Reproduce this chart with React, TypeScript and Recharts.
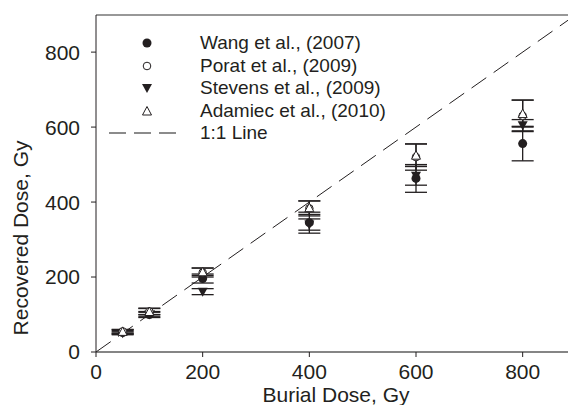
import {
  ComposedChart,
  Scatter,
  XAxis,
  YAxis,
  ErrorBar,
  ReferenceLine,
  Legend,
} from 'recharts';

// ── Data ────────────────────────────────────────────────
const burialDose = [50, 100, 200, 400, 600, 800];

const wangDose = [52, 100, 196, 345, 463, 556];
const wangErr = [5, 8, 12, 28, 37, 46];

const poratDose = [55, 108, 212, 383, 520, 630];
const poratErr = [5, 9, 12, 20, 35, 42];

const stevensDose = [50, 100, 161, 340, 470, 605];
const stevensErr = [4, 6, 8, 15, 25, 15];

const adamiecDose = [55, 108, 214, 385, 525, 636];
const adamiecErr = [5, 8, 10, 18, 30, 36];

const oneToOne = [0, 885];

const xTicks = [0, 200, 400, 600, 800];
const yTicks = [0, 200, 400, 600, 800];

const toRows = (ys: number[], errs: number[]) =>
  burialDose.map((x, i) => ({ x, y: ys[i], err: errs[i] }));

const lineRows = oneToOne.map((v) => ({ x: v, y: v }));

// ── Styles ───────────────────────────────────────────────
const INK = '#231f20';
const FONT = 'Arial, "Liberation Sans", Helvetica, sans-serif';

// ── Marker shapes ───────────────────────────────────────
const FilledCircle = (p: any) => (
  <circle cx={p.cx} cy={p.cy} r={4.5} fill={INK} />
);
const OpenCircle = (p: any) => (
  <circle cx={p.cx} cy={p.cy} r={3.8} fill="#fff" stroke={INK} strokeWidth={1} />
);
const DownTriangle = (p: any) => (
  <path
    d={`M${p.cx - 5},${p.cy - 4} L${p.cx + 5},${p.cy - 4} L${p.cx},${p.cy + 5} Z`}
    fill={INK}
  />
);
const UpTriangle = (p: any) => (
  <path
    d={`M${p.cx - 4.5},${p.cy + 4} L${p.cx + 4.5},${p.cy + 4} L${p.cx},${p.cy - 4.5} Z`}
    fill="#fff"
    stroke={INK}
    strokeWidth={1}
  />
);

const legendItems = [
  { name: 'Wang et al., (2007)', shape: FilledCircle },
  { name: 'Porat et al., (2009)', shape: OpenCircle },
  { name: 'Stevens et al., (2009)', shape: DownTriangle },
  { name: 'Adamiec et al., (2010)', shape: UpTriangle },
];

function LegendBox() {
  return (
    <div style={{ fontFamily: FONT, fontSize: 19, color: INK, lineHeight: '22.5px' }}>
      {legendItems.map((it) => (
        <div key={it.name} style={{ display: 'flex', alignItems: 'center', height: 22.5 }}>
          <svg width={100} height={22} style={{ display: 'block' }}>
            {it.shape({ cx: 47, cy: 11 })}
          </svg>
          <span>{it.name}</span>
        </div>
      ))}
      <div style={{ display: 'flex', alignItems: 'center', height: 22.5 }}>
        <svg width={100} height={22} style={{ display: 'block' }}>
          <line x1={9} y1={11} x2={76} y2={11} stroke="#666" strokeWidth={1.3} strokeDasharray="17 8" />
        </svg>
        <span>1:1 Line</span>
      </div>
    </div>
  );
}

// ── Component ────────────────────────────────────────────
export default function App() {
  return (
    <div style={{ position: 'absolute', left: 0, top: 0, background: '#fff' }}>
      <ComposedChart
        width={568}
        height={405}
        margin={{ top: 15, right: 0, bottom: 0, left: 0 }}
      >
        <XAxis
          type="number"
          dataKey="x"
          domain={[0, 885]}
          ticks={xTicks}
          allowDataOverflow
          height={53}
          tickSize={5}
          tickMargin={7}
          axisLine={{ stroke: '#858585', strokeWidth: 2 }}
          tickLine={{ stroke: INK }}
          tick={{ fill: INK, fontSize: 21, fontFamily: FONT }}
          label={{
            content: () => (
              <text
                x={336}
                y={402}
                textAnchor="middle"
                fill={INK}
                fontSize={21}
                fontFamily={FONT}
              >
                Burial Dose, Gy
              </text>
            ),
          }}
        />
        <YAxis
          type="number"
          dataKey="y"
          domain={[0, 899]}
          ticks={yTicks}
          allowDataOverflow
          width={96}
          tickSize={5}
          tickMargin={11}
          axisLine={{ stroke: INK, strokeWidth: 1 }}
          tickLine={{ stroke: INK }}
          tick={{ fill: INK, fontSize: 21, fontFamily: FONT }}
          label={{
            content: () => (
              <text
                x={0}
                y={0}
                transform="translate(28, 238) rotate(-90)"
                textAnchor="middle"
                fill={INK}
                fontSize={21}
                fontFamily={FONT}
              >
                Recovered Dose, Gy
              </text>
            ),
          }}
        />

        {/* plot frame top */}
        <ReferenceLine y={899} stroke="#333" strokeWidth={1.2} />

        {/* 1:1 line */}
        <Scatter
          data={lineRows}
          line={{ stroke: INK, strokeWidth: 1, strokeDasharray: '18 9' }}
          shape={() => null}
          legendType="none"
          isAnimationActive={false}
        />

        <Scatter data={toRows(wangDose, wangErr)} shape={FilledCircle} isAnimationActive={false}>
          <ErrorBar dataKey="err" direction="y" width={11} stroke={INK} strokeWidth={1.3} isAnimationActive={false} />
        </Scatter>
        <Scatter data={toRows(stevensDose, stevensErr)} shape={DownTriangle} isAnimationActive={false}>
          <ErrorBar dataKey="err" direction="y" width={11} stroke={INK} strokeWidth={1.3} isAnimationActive={false} />
        </Scatter>
        <Scatter data={toRows(poratDose, poratErr)} shape={OpenCircle} isAnimationActive={false}>
          <ErrorBar dataKey="err" direction="y" width={11} stroke={INK} strokeWidth={1.3} isAnimationActive={false} />
        </Scatter>
        <Scatter data={toRows(adamiecDose, adamiecErr)} shape={UpTriangle} isAnimationActive={false}>
          <ErrorBar dataKey="err" direction="y" width={11} stroke={INK} strokeWidth={1.3} isAnimationActive={false} />
        </Scatter>

        <Legend
          layout="horizontal"
          verticalAlign="middle"
          align="center"
          content={() => <LegendBox />}
          wrapperStyle={{ top: 32, left: 100, width: 300 }}
        />
      </ComposedChart>
    </div>
  );
}
